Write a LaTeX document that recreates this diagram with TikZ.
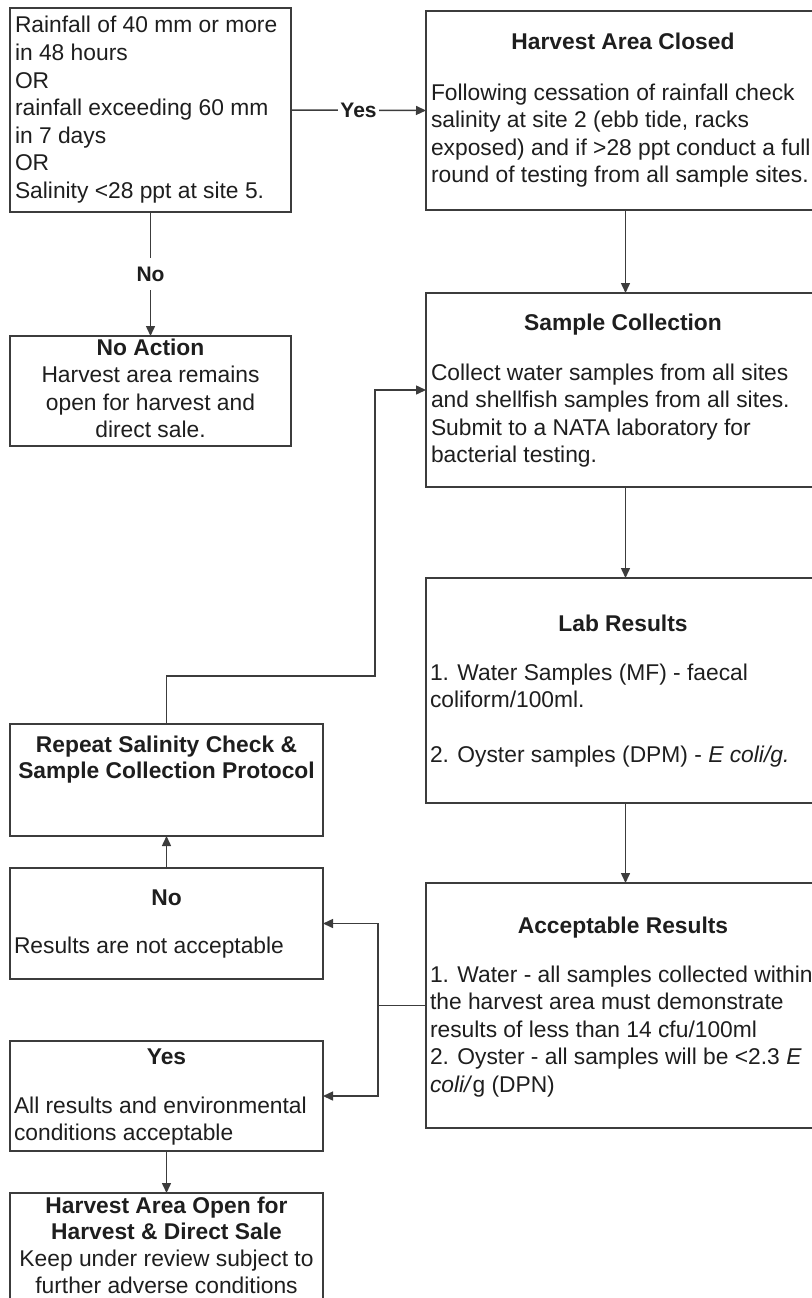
\documentclass[tikz,border=0pt]{standalone}
\usepackage{fontspec}
\setmainfont{Liberation Sans}
\usetikzlibrary{arrows.meta}
\definecolor{edgec}{HTML}{3C3C3C}
\definecolor{ink}{HTML}{1E1E1E}
\newcommand{\leftlines}[1]{\begin{tabular}[t]{@{}l@{}}#1\end{tabular}}
\newcommand{\midlines}[1]{\begin{tabular}[t]{@{}c@{}}#1\end{tabular}}
\begin{document}
\begin{tikzpicture}[x=1pt, y=-1pt,
  font=\fontsize{22.8}{27.6}\selectfont,
  box/.style={draw=edgec, line width=1.5pt, inner sep=0pt, outer sep=0pt, anchor=north west},
  txt/.style={inner sep=0pt, outer sep=0pt, text=ink},
  conn/.style={draw=edgec, line width=1.5pt},
  arr/.style={conn, -{Triangle[length=10pt,width=9pt]}},
  lab/.style={fill=white, font=\fontsize{21}{25}\selectfont\bfseries, inner xsep=2pt, inner ysep=9pt, text=ink}]
\useasboundingbox (0,0) rectangle (811,1298);

% boxes
\node[box, minimum width=281pt, minimum height=204pt] (cond) at (10,8) {};
\node[box, minimum width=281pt, minimum height=110pt] (noact) at (10,336) {};
\node[box, minimum width=399pt, minimum height=199pt] (hac) at (426,11) {};
\node[box, minimum width=399pt, minimum height=194pt] (sc) at (426,293) {};
\node[box, minimum width=399pt, minimum height=225pt] (lab) at (426,578) {};
\node[box, minimum width=399pt, minimum height=245pt] (acc) at (426,883) {};
\node[box, minimum width=313pt, minimum height=112pt] (rep) at (10,724) {};
\node[box, minimum width=313pt, minimum height=111pt] (nores) at (10,868) {};
\node[box, minimum width=313pt, minimum height=110pt] (yesres) at (10,1041) {};
\node[box, minimum width=313pt, minimum height=130pt] (open) at (10,1193) {};

% texts
\node[txt, anchor=base west] (condT) at (15,33) {\leftlines{Rainfall of 40 mm or more\\in 48 hours\\OR\\rainfall exceeding 60 mm\\in 7 days\\OR\\Salinity <28 ppt at site 5.}};
\node[txt, anchor=base] (noactT) at (150.5,355) {\midlines{\textbf{No Action}\\Harvest area remains\\open for harvest and\\direct sale.}};

\node[txt, anchor=base] (hacH) at (623,50) {\textbf{Harvest Area Closed}};
\node[txt, anchor=base west] (hacB) at (431,100) {\leftlines{Following cessation of rainfall check\\salinity at site 2 (ebb tide, racks\\exposed) and if >28 ppt conduct a full\\round of testing from all sample sites.}};

\node[txt, anchor=base] (scH) at (623,330) {\textbf{Sample Collection}};
\node[txt, anchor=base west] (scB) at (431,380) {\leftlines{Collect water samples from all sites\\and shellfish samples from all sites.\\Submit to a NATA laboratory for\\bacterial testing.}};

\node[txt, anchor=base] (labH) at (623,631) {\textbf{Lab Results}};
\node[txt, anchor=base west] (labB) at (430,680) {\leftlines{1. Water Samples (MF) - faecal\\coliform/100ml.\\ \\2. Oyster samples (DPM) - \textit{E coli/g.}}};

\node[txt, anchor=base] (accH) at (623,933) {\textbf{Acceptable Results}};
\node[txt, anchor=base west] (accB) at (430,982) {\leftlines{1. Water - all samples collected within\\the harvest area must demonstrate\\results of less than 14 cfu/100ml\\2. Oyster - all samples will be <2.3 \textit{E}\\\textit{coli/}g (DPN)}};

\node[txt, anchor=base] (repT) at (166.5,752) {\midlines{\textbf{Repeat Salinity Check \&}\\[-1.6pt]\textbf{Sample Collection Protocol}}};

\node[txt, anchor=base] (noH) at (166.5,905) {\textbf{No}};
\node[txt, anchor=base west] (noB) at (14,953) {Results are not acceptable};

\node[txt, anchor=base] (yesH) at (166.5,1064) {\textbf{Yes}};
\node[txt, anchor=base west] (yesB) at (14,1113) {\leftlines{All results and environmental\\conditions acceptable}};

\node[txt, anchor=base] (openT) at (166.5,1213) {\midlines{\textbf{Harvest Area Open for}\\[-0.8pt]\textbf{Harvest \& Direct Sale}\\[-0.8pt]Keep under review subject to\\[-0.8pt]further adverse conditions}};

% connectors
\draw[arr] (cond.east) -- node[lab] (yesL) {Yes} (hac.west);
\draw[arr] (cond.south) -- node[lab] (noL) {No} (noact.north);
\draw[arr] (hac.south) -- (sc.north);
\draw[arr] (sc.south) -- (lab.north);
\draw[arr] (lab.south) -- (acc.north);
\coordinate (fbA) at (375,676);
\draw[arr] (rep.north) |- (fbA) |- (sc.west);
\draw[arr] (nores.north) -- (rep.south);
\coordinate (split) at (378,1005.5);
\draw[conn] (acc.west) -- (split);
\draw[arr] (split) |- (nores.east);
\draw[arr] (split) |- (yesres.east);
\draw[arr] (yesres.south) -- (open.north);
\end{tikzpicture}
\end{document}
